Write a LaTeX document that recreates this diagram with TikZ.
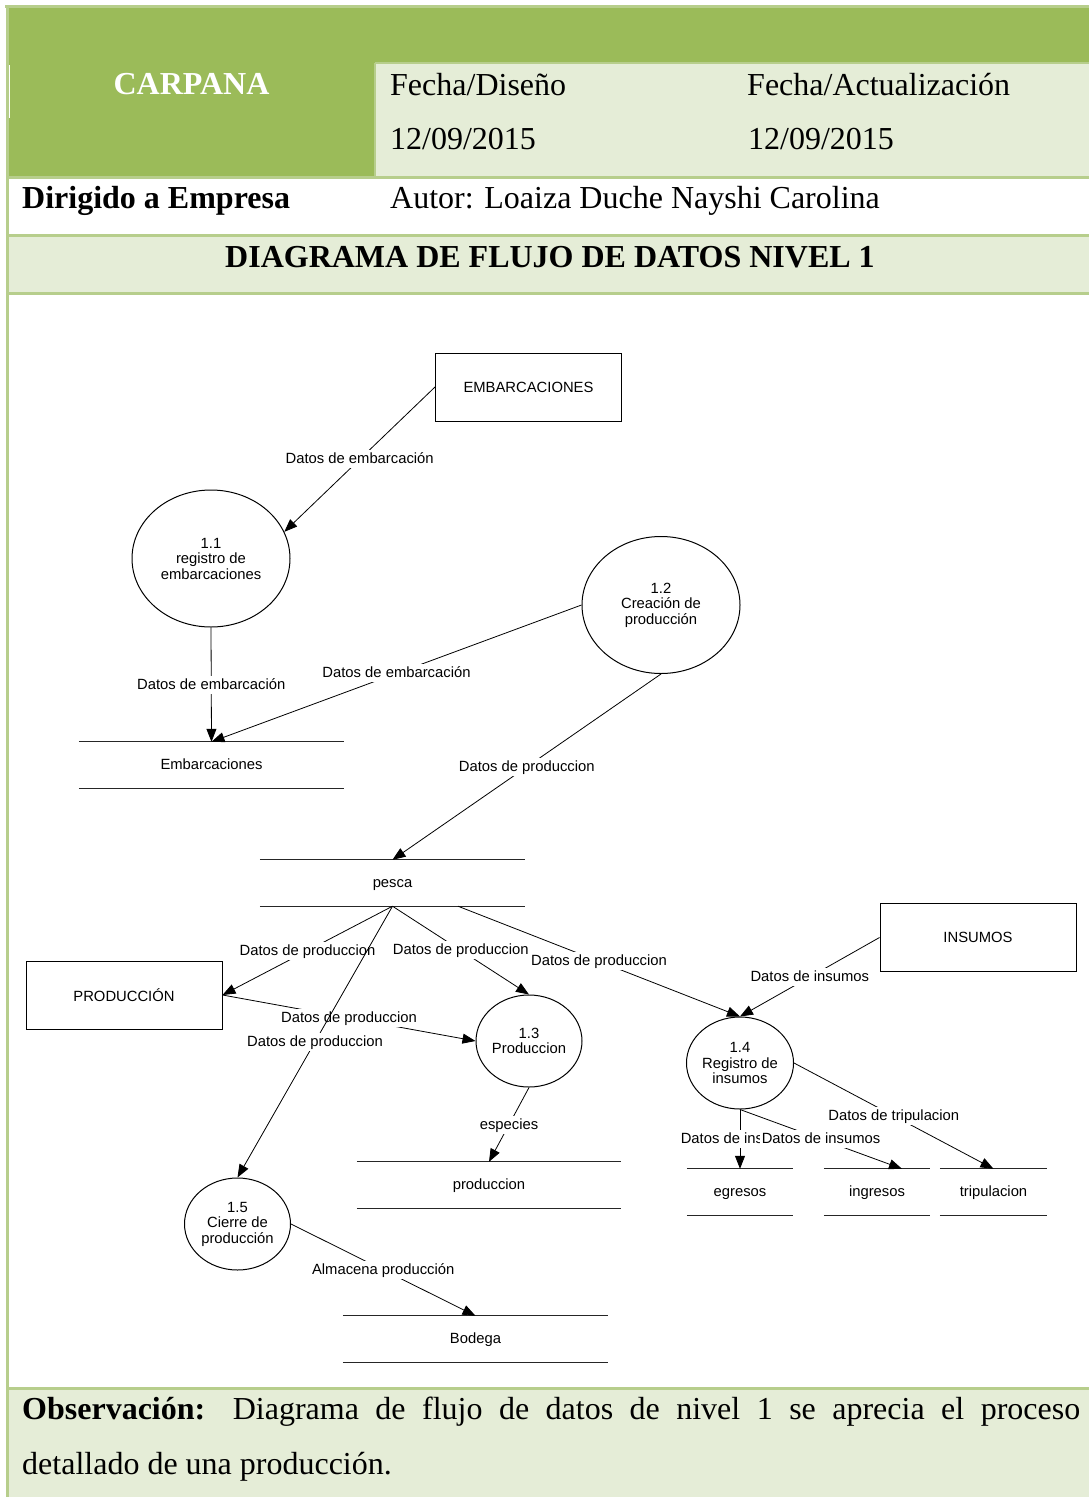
\documentclass[tikz,border=0pt]{standalone}
\usepackage{fontspec}
\setmainfont{Liberation Serif}
\newfontfamily\dfdfont{Liberation Sans}
\usetikzlibrary{shapes.geometric,arrows.meta,calc}
\definecolor{hdrdark}{HTML}{9BBB59}
\definecolor{hdrlight}{HTML}{E5EDD7}
\definecolor{rulegreen}{HTML}{B7CE8C}

\begin{document}
\begin{tikzpicture}[x=1pt,y=-1pt,
  hdr/.style={font=\fontsize{32}{38}\selectfont, inner sep=0pt, anchor=base west},
  dfd/.style={font=\dfdfont\fontsize{14.8}{15.5}\selectfont},
  oneline/.style={text height=12pt, text depth=3pt},
  proc/.style={dfd, ellipse, draw, line width=1pt, inner sep=0pt, align=center},
  bigproc/.style={proc, minimum width=158pt, minimum height=137pt},
  smallproc/.style={proc, minimum width=106pt, minimum height=92pt},
  entity/.style={dfd, draw, line width=1pt, minimum width=196pt, minimum height=68pt},
  store/.style={dfd, oneline, inner sep=0pt, minimum height=46pt},
  storeline/.style={line width=1pt, draw=black!85},
  flow/.style={line width=0.8pt, -{Triangle[length=13pt,width=10pt]}},
  lbl/.style={dfd, oneline, fill=white, inner sep=1.5pt},
  rule/.style={draw=rulegreen, line width=3pt},
  thinrule/.style={draw=rulegreen, line width=2pt}
]
\useasboundingbox (0,0) rectangle (1089,1497);
\fill[white] (0,0) rectangle (1089,1497);

% ---- table backgrounds ----
\fill[hdrdark] (8,7) rectangle (1089,63);
\fill[hdrdark] (8,63) rectangle (375,177);
\fill[hdrlight] (375,63) rectangle (1089,177);
\fill[hdrlight] (8,235) rectangle (1089,293);
\fill[hdrlight] (8,1388) rectangle (1089,1497);

% ---- table rules ----
\draw[thinrule] (375,63) -- (1089,63);
\draw[thinrule] (375,63) -- (375,177);
\draw[rule] (5,6) -- (1089,6);
\draw[rule] (7,5) -- (7,1497);
\draw[rule] (8,177.5) -- (1089,177.5);
\draw[rule] (8,235) -- (1089,235);
\draw[rule] (8,293) -- (1089,293);
\draw[rule] (8,1388) -- (1089,1388);
\draw[white, line width=1pt] (9.5,65) -- (9.5,118);

% ---- header texts ----
\node[font=\fontsize{32}{38}\selectfont\bfseries, text=white, inner sep=0pt, anchor=base] (carpana) at (191.5,94) {CARPANA};
\node[hdr] (fdis) at (390,95) {Fecha/Diseño};
\node[hdr] (fdisv) at (390,149) {12/09/2015};
\node[hdr] (fact) at (747,95) {Fecha/Actualización};
\node[hdr] (factv) at (748,149) {12/09/2015};
\node[hdr, font=\fontsize{32}{38}\selectfont\bfseries] (dir) at (22,208) {Dirigido a Empresa};
\node[hdr] (autor) at (390,208) {Autor: Loaiza Duche Nayshi Carolina};
\node[font=\fontsize{32}{38}\selectfont\bfseries, inner sep=0pt, anchor=base] (title) at (550,267) {DIAGRAMA DE FLUJO DE DATOS NIVEL 1};

% ---- external entities ----
\node[entity, minimum width=186pt] (eEmb) at (528.5,387) {EMBARCACIONES};
\node[entity] (eProd) at (124,995) {PRODUCCIÓN};
\node[entity] (eIns) at (978,937.5) {INSUMOS};

% ---- processes ----
\node[bigproc] (p11) at (211,558.5) {1.1\\registro de\\embarcaciones};
\node[bigproc] (p12) at (661,605) {1.2\\Creación de\\producción};
\node[smallproc] (p13) at (529,1041) {1.3\\Produccion};
\node[smallproc] (p14) at (740,1063) {1.4\\Registro de\\insumos};
\node[smallproc] (p15) at (237.5,1224) {1.5\\Cierre de\\producción};

% ---- data stores ----
\node[store, minimum width=265pt] (sEmb) at (211.5,765) {Embarcaciones};
\node[store, minimum width=265pt] (sPes) at (392.5,883) {pesca};
\node[store, minimum width=264pt] (sPro) at (489,1185) {produccion};
\node[store, minimum width=265pt] (sBod) at (475.5,1339) {Bodega};
\node[store, minimum width=106pt] (sEgr) at (740,1192) {egresos};
\node[store, minimum width=106pt] (sIng) at (877,1192) {ingresos};
\node[store, minimum width=107pt] (sTri) at (993.5,1192) {tripulacion};
\foreach \s in {sEmb,sPes,sPro,sBod,sEgr,sIng,sTri}
  \draw[storeline] (\s.north west) -- (\s.north east) (\s.south west) -- (\s.south east);

% ---- data flows ----
\draw[flow] (eEmb.west) -- node[lbl]{Datos de embarcación} (p11.20);
\draw[flow] (p11.south) -- node[lbl]{Datos de embarcación} (sEmb.north);
\draw[flow] (p12.west) -- node[lbl]{Datos de embarcación} (sEmb.north);
\draw[flow] (p12.south) -- node[lbl]{Datos de produccion} (sPes.north);
\draw[flow] (sPes.south) -- node[lbl]{Datos de produccion} (eProd.east);
\draw[flow] (sPes.south) -- node[lbl]{Datos de produccion} (p13.north);
\draw[flow] ($(sPes.south)+(65.5,0)$) -- node[lbl]{Datos de produccion} (p14.north);
\draw[flow] (eProd.east) -- node[lbl]{Datos de produccion} (p13.west);
\draw[flow] (sPes.south) -- node[lbl]{Datos de produccion} (p15.north);
\draw[flow] (eIns.west) -- node[lbl]{Datos de insumos} (p14.north);
\draw[flow] (p13.south) -- node[lbl]{especies} (sPro.north);
\draw[flow] (p14.south) -- node[lbl]{Datos de insumos} (sEgr.north);
\draw[flow] (p14.south) -- node[lbl]{Datos de insumos} ($(sIng.north)+(25,0)$);
\draw[flow] (p14.east) -- node[lbl]{Datos de tripulacion} (sTri.north);
\draw[flow] (p15.east) -- node[lbl]{Almacena producción} (sBod.north);

% ---- observation ----
\node[hdr] (obs1) at (22,1419) {\makebox[1058pt][s]{\textbf{Observación:} Diagrama de flujo de datos de nivel 1 se aprecia el proceso}};
\node[hdr] (obs2) at (22,1474) {detallado de una producción.};
\end{tikzpicture}
\end{document}
